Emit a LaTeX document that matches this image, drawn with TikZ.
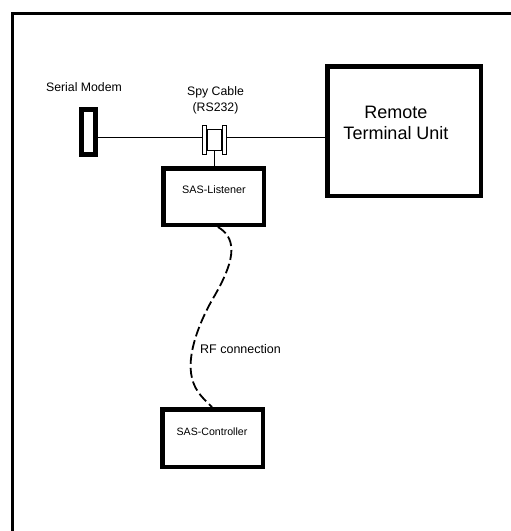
\documentclass[tikz,border=0pt]{standalone}
\usepackage{fontspec}
\setmainfont{Liberation Sans}
\begin{document}
\begin{tikzpicture}[x=1pt,y=-1pt,
  box/.style={draw,line width=4.5pt,inner sep=0pt,fill=white},
  lbl/.style={inner sep=0pt,align=center},
  wire/.style={line width=1pt},
  flange/.style={draw,line width=1.2pt,fill=white,minimum width=3.8pt,minimum height=28.8pt,inner sep=0pt},
  rf/.style={line width=1.8pt,dash pattern=on 10pt off 4pt}]
\useasboundingbox (0,0) rectangle (511,531);
\draw[line width=3.5pt] (12.5,531) -- (12.5,13.5) -- (511,13.5);
% boxes
\node[box,minimum width=153.5pt,minimum height=129.5pt] (rtu) at (404,131) {};
\node[lbl,font=\fontsize{18}{21}\selectfont] (rtuText) at (396,122.5) {Remote\\Terminal Unit};
\node[box,line width=5pt,minimum width=14pt,minimum height=45pt] (modem) at (88.5,132) {};
\node[lbl,font=\fontsize{12.3}{14}\selectfont] (modemText) at (84,87) {Serial Modem};
\node[box,minimum width=100.5pt,minimum height=56.5pt] (listener) at (213.5,196.5) {};
\node[lbl,font=\fontsize{10.8}{12}\selectfont] (listenerText) at (214,190) {SAS-Listener};
\node[box,minimum width=100.5pt,minimum height=57.5pt] (ctrl) at (212.5,438) {};
\node[lbl,font=\fontsize{10.6}{12}\selectfont] (ctrlText) at (212,432) {SAS-Controller};
% spy cable connector
\node[draw,line width=1.3pt,fill=white,inner sep=0pt,minimum width=14.7pt,minimum height=20.7pt] (spy) at (214.7,140) {};
\node[flange] (flL) at (204.2,140) {};
\node[flange] (flR) at (224.2,140) {};
\node[lbl,font=\fontsize{12.3}{16}\selectfont] (spyText) at (215.5,100) {Spy Cable\\(RS232)};
% wires
\coordinate (bus) at (0,137.5);
\draw[wire] (modem.east |- bus) -- (flL.west |- bus);
\draw[wire] (flR.east |- bus) -- (rtu.west |- bus);
\draw[wire] (spy.south) -- (spy.south |- listener.north);
% RF link
\draw[rf] ([xshift=4.5pt]listener.south) .. controls (240,240) and (232,265) .. (215,295)
  .. controls (200,320) and (186,355) .. (192,378)
  .. controls (195,392) and (205,400) .. ([xshift=-0.5pt]ctrl.north);
\node[lbl,font=\fontsize{12.5}{14}\selectfont,anchor=west] (rfText) at (200,349) {RF connection};
\end{tikzpicture}
\end{document}
